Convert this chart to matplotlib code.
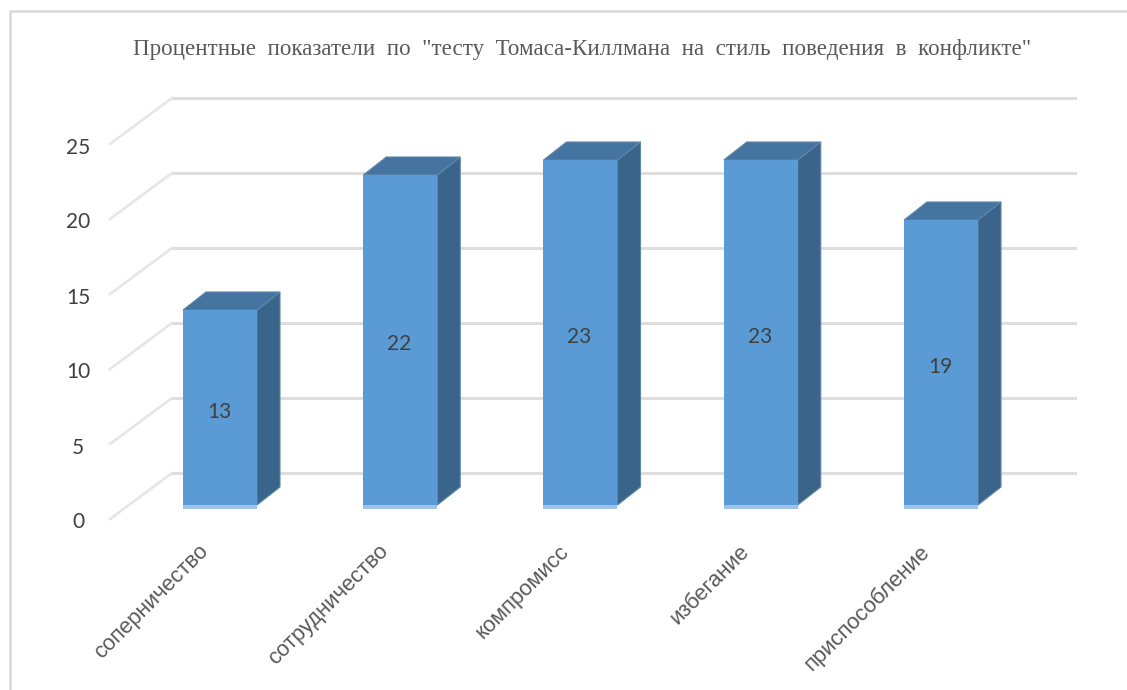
import matplotlib
matplotlib.use('Agg')
import matplotlib.pyplot as plt
from matplotlib.patches import Polygon

title = 'Процентные показатели по "тесту Томаса-Киллмана на стиль поведения в конфликте"'
categories = ['соперничество', 'сотрудничество', 'компромисс', 'избегание', 'приспособление']
values = [13, 22, 23, 23, 19]
y_ticks = [0, 5, 10, 15, 20, 25]

front = '#5b9bd5'
top = '#44749f'
side = '#3a6489'
edge = '#a0c2e8'
grid = '#dedede'
text_col = '#404040'

# one axes over the whole figure, x = category number, y = value
w, h = 1127, 690
x0, px_x = 220, 180.25   # pixel of first bar, pixels per category
y0, px_y = 505, 15       # pixel of value 0 on the bars, pixels per unit

fig = plt.figure(figsize=(w / 100, h / 100), dpi=100)
ax = fig.add_axes([0, 0, 1, 1])
ax.set_xlim(-x0 / px_x, (w - x0) / px_x)
ax.set_ylim((y0 - h) / px_y, y0 / px_y)
ax.axis('off')

bar_w = 74 / px_x
dx, dy = 23 / px_x, 18 / px_y      # depth of a bar
wall_y = 32 / px_y                 # back wall is this much higher
wall_l = (172 - x0) / px_x
wall_r = (1075 - x0) / px_x
wall_f = (110 - x0) / px_x
label_y = -14 / px_y               # where the floor front edge sits

# chart frame, no right or bottom side in the picture
ax.plot([(10 - x0) / px_x, (10 - x0) / px_x, (w - x0) / px_x],
        [(y0 - h) / px_y, (y0 - 11) / px_y, (y0 - 11) / px_y],
        color='#d9d9d9', lw=1.8, zorder=1, solid_capstyle='butt')

# walls
for t in y_ticks:
    ax.plot([wall_l, wall_r], [t + wall_y, t + wall_y], color=grid, lw=2.2, zorder=1)
    ax.plot([wall_f, wall_l], [t + label_y, t + wall_y], color='#e6e6e6', lw=1.9, zorder=1)
    ax.text(wall_f - 32 / px_x, t + label_y - 3.5 / px_y, str(t), ha='center', va='center',
            fontsize=15, family='Lato', color=text_col)

# bars
for i, v in enumerate(values):
    l = i - bar_w / 2
    r = i + bar_w / 2
    ax.add_patch(Polygon([(r, 0), (r + dx, dy), (r + dx, v + dy), (r, v)],
                         fc=side, ec='#5e86aa', lw=0.8, zorder=3))
    ax.add_patch(Polygon([(l, v), (l + dx, v + dy), (r + dx, v + dy), (r, v)],
                         fc=top, ec='#5e86aa', lw=0.8, zorder=3))
    ax.bar(i, v, width=bar_w, color=front, zorder=4)
    ax.bar(i, 4 / px_y, bottom=-4 / px_y, width=bar_w, color=edge, zorder=4)
    ax.text(i - 1 / px_x, v / 2 - 4.5 / px_y, str(v), ha='center', va='center', fontsize=15,
            family='Lato', color=text_col, zorder=5)
    ax.text(i - 22 / px_x, -36 / px_y, categories[i], rotation=45, ha='right', va='top',
            rotation_mode='anchor', fontsize=15.8, family='Liberation Sans', color='#595959')

# the reference has very wide word gaps
ax.text((582 - x0) / px_x, (y0 - 49) / px_y, title.replace(' ', '  '), ha='center', va='center',
        fontsize=16.6, family='Liberation Serif', color='#595959')

fig.savefig('out.png', dpi=100)
